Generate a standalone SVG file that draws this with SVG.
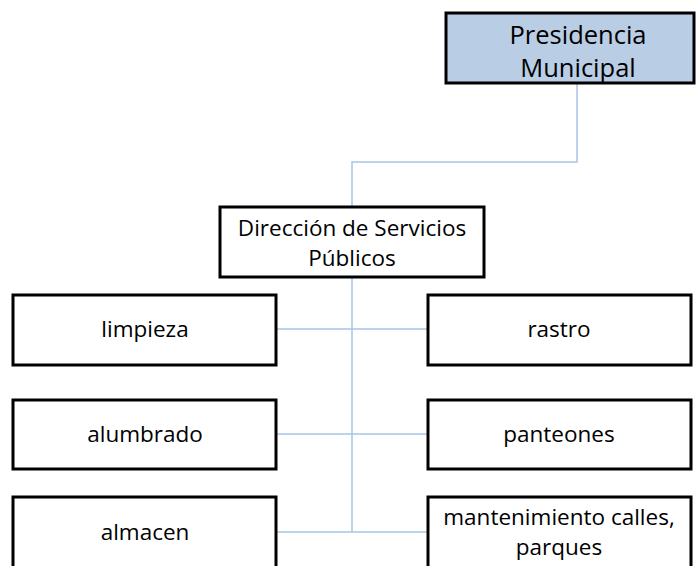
<svg xmlns="http://www.w3.org/2000/svg" width="697" height="566" viewBox="0 0 697 566">
<style>
.box{fill:#fff;stroke:#000;stroke-width:3}
.top{fill:#b9cde5;stroke:#000;stroke-width:3}
text{font-family:"Open Sans","Liberation Sans",sans-serif;font-size:22.5px;fill:#000;text-anchor:middle}
.big{font-size:25.5px}
.conn{fill:none;stroke:#a6c4e8;stroke-width:1.5}
</style>
<rect width="697" height="566" fill="#fff"/>
<g id="connectors">
<path class="conn" d="M577,84 V162 H352 V207"/>
<path class="conn" d="M352,277 V532"/>
<path class="conn" d="M276,329 H427"/>
<path class="conn" d="M276,434 H427"/>
<path class="conn" d="M276,532 H427"/>
</g>
<g id="presidencia"><rect class="top" x="446" y="13" width="248" height="70"/><text class="big" x="578" y="44">Presidencia</text><text class="big" x="578" y="77">Municipal</text></g>
<g id="direccion"><rect class="box" x="220" y="207" width="264" height="70"/><text x="352" y="236">Dirección de Servicios</text><text x="352" y="266">Públicos</text></g>
<g id="limpieza"><rect class="box" x="13" y="295" width="263" height="70"/><text x="145" y="337">limpieza</text></g>
<g id="rastro"><rect class="box" x="428" y="295" width="263" height="70"/><text x="559" y="337">rastro</text></g>
<g id="alumbrado"><rect class="box" x="13" y="400" width="263" height="69"/><text x="145" y="442">alumbrado</text></g>
<g id="panteones"><rect class="box" x="428" y="400" width="263" height="69"/><text x="559" y="442">panteones</text></g>
<g id="almacen"><rect class="box" x="13" y="497" width="263" height="75"/><text x="145" y="540">almacen</text></g>
<g id="mantenimiento"><rect class="box" x="428" y="497" width="263" height="75"/><text x="559" y="525">mantenimiento calles,</text><text x="559" y="555">parques</text></g>
</svg>
